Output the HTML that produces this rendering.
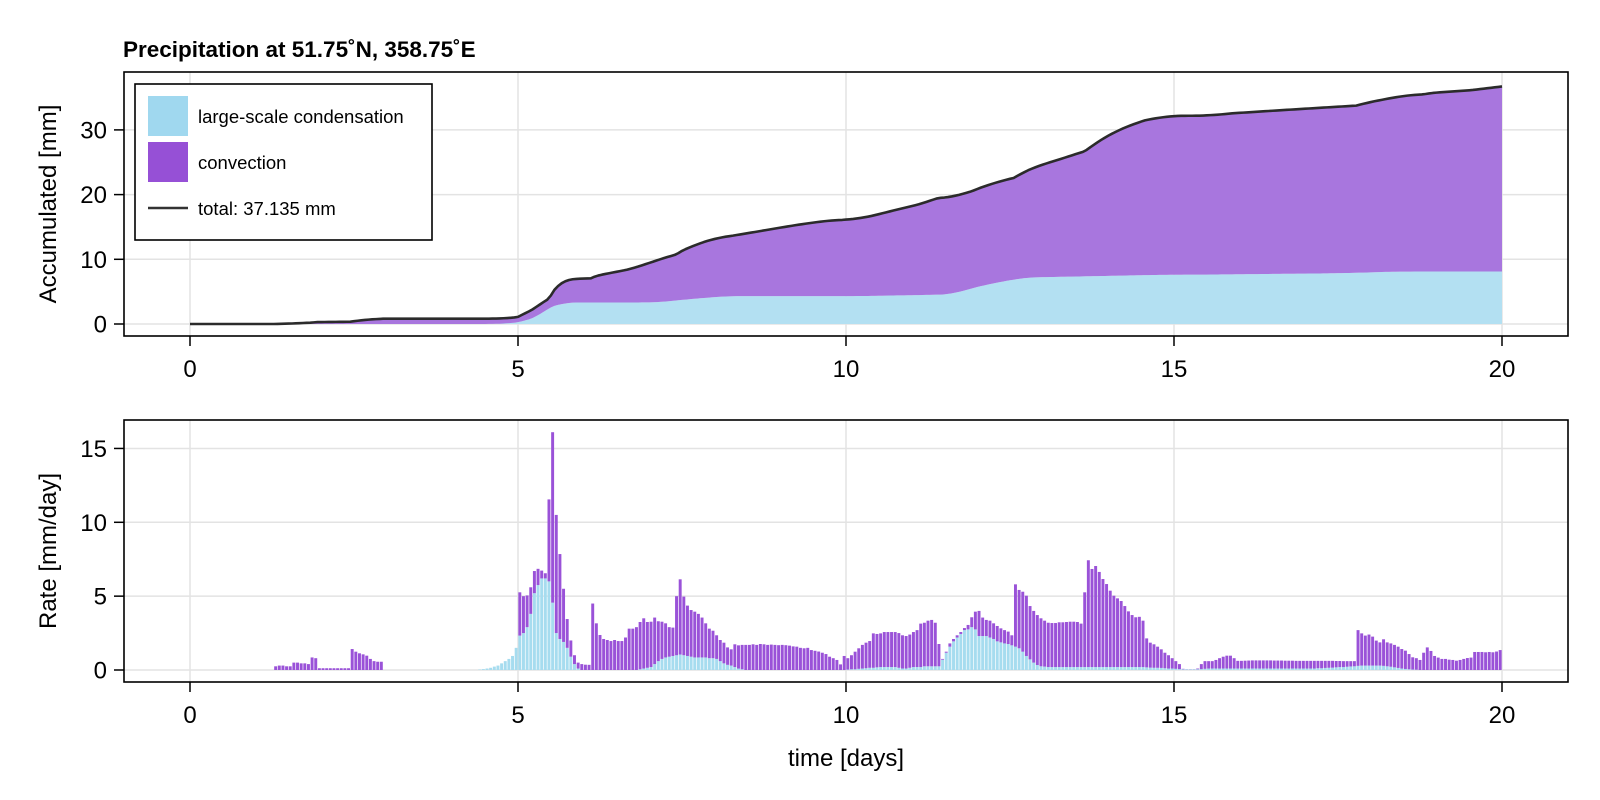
<!DOCTYPE html>
<html><head><meta charset="utf-8"><style>
html,body{margin:0;padding:0;background:#fff;}
svg{display:block;font-family:"Liberation Sans",Arial,sans-serif;}
</style></head><body>
<svg id="chart" width="1600" height="800" viewBox="0 0 1600 800" xmlns="http://www.w3.org/2000/svg">
<text x="123" y="57" font-size="22.5" font-weight="bold" fill="#000">Precipitation at 51.75˚N, 358.75˚E</text>
<g id="topPanel"></g>
<g id="botPanel"></g>
<text transform="translate(56,204) rotate(-90)" text-anchor="middle" font-size="24">Accumulated [mm]</text>
<text transform="translate(56,551) rotate(-90)" text-anchor="middle" font-size="24">Rate [mm/day]</text>
<text x="846" y="766" text-anchor="middle" font-size="24">time [days]</text>
<g>
<rect x="135" y="84" width="297" height="156" fill="#fff" stroke="#000" stroke-width="1.6"/>
<rect x="148" y="96" width="40" height="40" fill="#a0d8ef"/>
<text x="198" y="123" font-size="18.5">large-scale condensation</text>
<rect x="148" y="142" width="40" height="40" fill="#9650d6"/>
<text x="198" y="169" font-size="18.5">convection</text>
<line x1="148" y1="208" x2="188" y2="208" stroke="#333" stroke-width="2.5"/>
<text x="198" y="215" font-size="18.5">total: 37.135 mm</text>
</g>
</svg>
<script>
const totalRate = [
0,0,0,0,0,0,0,0,0,0,0,0,0,0,0,0,0,0,
0,0,0,0,0,.25,.3,.3,.25,.25,.5,.5,.45,.45,.4,.85,.8,.12,
.12,.12,.12,.12,.12,.12,.12,.12,1.42,1.24,1.13,1.06,.97,.75,.6,.56,.56,0,
0,0,0,0,0,0,0,0,0,0,0,0,0,0,0,0,0,0,
0,0,0,0,0,0,0,.03,.06,.1,.15,.23,.3,.45,.6,.75,.95,1.5,
5.26,5.0,5.05,5.6,6.7,6.85,6.73,6.55,11.55,16.1,10.5,7.85,5.5,3.45,2.0,1.0,.5,.4,
.36,.35,4.5,3.16,2.37,2.1,2.03,1.96,2.03,1.96,1.96,2.2,2.8,2.8,2.9,3.25,3.5,3.25,
3.27,3.55,3.3,3.27,3.16,2.9,2.87,5.0,6.14,4.97,4.36,4.06,3.95,3.8,3.55,3.16,2.8,2.66,
2.35,2.03,1.85,1.53,1.4,1.74,1.67,1.7,1.7,1.7,1.74,1.7,1.76,1.74,1.7,1.72,1.7,1.68,
1.7,1.68,1.65,1.6,1.58,1.5,1.47,1.5,1.35,1.3,1.25,1.17,1.08,.9,.8,.68,.38,.95,
.8,1.0,1.24,1.47,1.7,1.85,1.96,2.48,2.44,2.48,2.57,2.57,2.57,2.57,2.5,2.35,2.3,2.4,
2.57,2.7,3.14,3.2,3.34,3.39,3.2,1.76,.75,1.24,1.8,2.1,2.35,2.57,2.84,3.05,3.57,3.95,
4.0,3.55,3.39,3.34,3.16,2.98,2.82,2.7,2.6,2.35,5.8,5.42,5.3,5.03,4.33,4.0,3.72,3.5,
3.34,3.2,3.18,3.18,3.23,3.23,3.25,3.27,3.27,3.25,3.14,5.26,7.43,6.84,7.04,6.64,6.16,5.82,
5.37,5.03,4.85,4.67,4.33,3.97,3.72,3.57,3.6,3.34,2.14,1.85,1.74,1.58,1.4,1.17,1.0,.8,
.6,.4,.08,.05,.05,.05,.1,.4,.6,.6,.6,.68,.8,.9,.97,.97,.8,.62,
.62,.63,.64,.65,.65,.65,.65,.65,.65,.64,.64,.64,.63,.63,.63,.62,.62,.62,
.62,.62,.62,.62,.62,.62,.62,.62,.61,.61,.6,.6,.6,.6,2.7,2.48,2.33,2.4,
2.26,1.99,1.87,2.08,1.87,1.8,1.7,1.58,1.42,1.31,1.08,.86,.8,.68,1.17,1.53,1.29,.95,
.84,.75,.75,.7,.68,.63,.68,.75,.81,.84,1.22,1.22,1.22,1.2,1.22,1.2,1.25,1.35
];
const lscRate = [
0,0,0,0,0,0,0,0,0,0,0,0,0,0,0,0,0,0,
0,0,0,0,0,0,0,0,0,0,0,0,0,0,0,0,0,0,
0,0,0,0,0,0,0,0,0,0,0,0,0,0,0,0,0,0,
0,0,0,0,0,0,0,0,0,0,0,0,0,0,0,0,0,0,
0,0,0,0,0,0,0,.03,.06,.1,.15,.23,.3,.45,.6,.75,.95,1.5,
2.33,2.5,2.9,3.8,5.2,5.75,6.2,6.2,6.0,4.56,2.5,2.1,1.9,1.5,.9,.4,.1,0,
0,0,0,0,0,0,0,0,0,0,0,0,0,0,0,.05,.1,.15,
.2,.4,.6,.75,.85,.9,.95,1.0,1.05,1.0,.95,.9,.85,.85,.85,.85,.8,.8,
.75,.6,.45,.35,.3,.2,.1,.05,0,0,0,0,0,0,0,0,0,0,
0,0,0,0,0,0,0,0,0,0,0,0,0,0,0,0,0,0,
.03,.05,.05,.08,.1,.12,.15,.15,.18,.2,.2,.2,.2,.2,.15,.1,.1,.15,
.2,.2,.2,.25,.25,.25,.25,.25,.7,1.17,1.58,1.94,2.2,2.44,2.7,2.75,2.9,2.75,
2.3,2.3,2.3,2.2,2.1,1.94,1.87,1.8,1.76,1.67,1.58,1.47,1.24,.95,.72,.5,.34,.25,
.23,.2,.2,.2,.2,.2,.2,.2,.2,.2,.2,.2,.2,.2,.2,.2,.2,.2,
.2,.2,.2,.2,.2,.2,.2,.2,.2,.2,.18,.16,.15,.15,.14,.12,.1,.1,
.08,.06,.05,.04,.04,.04,.05,.06,.08,.1,.1,.1,.1,.1,.1,.1,.1,.1,
.1,.1,.1,.1,.1,.1,.1,.1,.1,.1,.1,.1,.1,.1,.1,.1,.1,.1,
.1,.1,.1,.12,.12,.14,.15,.16,.18,.2,.2,.22,.24,.25,.28,.3,.3,.3,
.3,.3,.3,.28,.25,.22,.18,.14,.1,.07,.05,.03,.02,0,0,0,0,0,
0,0,0,0,0,0,0,0,0,0,0,0,0,0,0,0,0,0
];
const xTicks = [0,5,10,15,20];
const yTicksTop = [0,10,20,30];
const yTicksBot = [0,5,10,15];
const stepsPerDay = 18;

const NS = "http://www.w3.org/2000/svg";
function mk(tag, attrs, parent){const e=document.createElementNS(NS,tag);for(const k in attrs)e.setAttribute(k,attrs[k]);parent.appendChild(e);return e;}
const X0=124,X1=1568;
const sx = d => 190 + d*65.6;
const syTop = v => 324 - v*6.47;
const syBot = v => 670 - v*14.77;
const topG=document.getElementById('topPanel'), botG=document.getElementById('botPanel');

function axes(g, yT, yB, yTicks, sy){
  for(const v of yTicks){const l=mk('line',{x1:X0,x2:X1,y1:sy(v),y2:sy(v),stroke:'#e3e3e3','stroke-width':1.5},g);
    
    }
  for(const d of xTicks){const l=mk('line',{x1:sx(d),x2:sx(d),y1:yT,y2:yB,stroke:'#e3e3e3','stroke-width':1.5},g);
    
    }
}
function frame(g, yT, yB, yTicks, sy, xLabY){
  const r=mk('rect',{x:X0,y:yT,width:X1-X0,height:yB-yT,fill:'none',stroke:'#000','stroke-width':1.6},g);
  
  
  for(const v of yTicks){
    mk('line',{x1:X0-10,x2:X0,y1:sy(v),y2:sy(v),stroke:'#000','stroke-width':1.5},g);
    const t=mk('text',{x:X0-17,y:sy(v)+8.5,'text-anchor':'end','font-size':24},g);t.textContent=v;
    
    
  }
  for(const d of xTicks){
    mk('line',{x1:sx(d),x2:sx(d),y1:yB,y2:yB+10,stroke:'#000','stroke-width':1.5},g);
    const t=mk('text',{x:sx(d),y:xLabY,'text-anchor':'middle','font-size':24},g);t.textContent=d;
    
    
  }
}
// top panel
axes(topG,72,336,yTicksTop,syTop);
const dt=1/stepsPerDay;
const accT=[0],accL=[0];
for(let k=0;k<totalRate.length;k++){accT.push(accT[k]+totalRate[k]*dt);accL.push(accL[k]+lscRate[k]*dt);}
let pL=`M${sx(0)},${syTop(0)}`;
accL.forEach((v,i)=>{pL+=` L${sx(i*dt).toFixed(2)},${syTop(v).toFixed(2)}`;});
const lscPath=pL+` L${sx((accL.length-1)*dt)},${syTop(0)} Z`;
const convUp=accT.map((v,i)=>`${sx(i*dt).toFixed(2)},${syTop(v).toFixed(2)}`);
const convDn=accL.map((v,i)=>`${sx(i*dt).toFixed(2)},${syTop(v).toFixed(2)}`).reverse();
const aL=mk('path',{d:lscPath,fill:'#b3e0f2'},topG);


const aC=mk('path',{d:'M'+convUp.join(' L')+' L'+convDn.join(' L')+' Z',fill:'#a876de'},topG);


const ln=mk('polyline',{points:convUp.join(' '),fill:'none',stroke:'#2b2b2b','stroke-width':2.6,'stroke-linejoin':'round'},topG);


frame(topG,72,336,yTicksTop,syTop,377);

// bottom panel
axes(botG,420,682,yTicksBot,syBot);
const bw=dt*65.6;
for(let k=0;k<totalRate.length;k++){
  const x=sx(k*dt)+0.35, w=bw-0.7;
  const l=lscRate[k], t=totalRate[k];
  if(l>0){const r=mk('rect',{x:x,y:syBot(l),width:w,height:syBot(0)-syBot(l),fill:'#a6dcef'},botG);
    
    }
  if(t>l){const r=mk('rect',{x:x,y:syBot(t),width:w,height:syBot(l)-syBot(t),fill:'#9a52d8'},botG);
    
    }
}
frame(botG,420,682,yTicksBot,syBot,723);
</script>
</body></html>
